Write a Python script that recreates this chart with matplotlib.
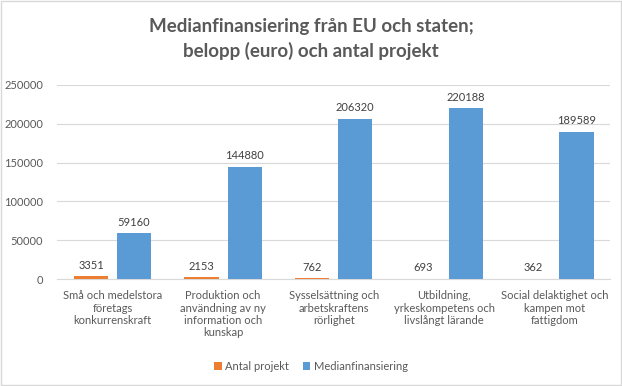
import matplotlib.pyplot as plt
import numpy as np
from matplotlib.patches import Rectangle

categories = ["Små och medelstora\nföretags\nkonkurrenskraft",
              "Produktion och\nanvändning av ny\ninformation och\nkunskap",
              "Sysselsättning och\narbetskraftens\nrörlighet",
              "Utbildning,\nyrkeskompetens och\nlivslångt lärande",
              "Social delaktighet och\nkampen mot\nfattigdom"]
antal_projekt = [3351, 2153, 762, 693, 362]
medianfinansiering = [59160, 144880, 206320, 220188, 189589]
yticks = [0, 50000, 100000, 150000, 200000, 250000]

plt.rcParams['font.family'] = ['Lato', 'DejaVu Sans']

fig = plt.figure(figsize=(6.22, 3.86), dpi=100)
fig.patches.append(Rectangle((0.0015, 0.002), 0.997, 0.995, transform=fig.transFigure,
                             fill=False, edgecolor='#d9d9d9', linewidth=1))
ax = fig.add_axes([0.092, 0.277, 0.889, 0.503])

x = np.arange(len(categories))
w = 0.31
off = 0.195
orange = '#ed7d31'
blue = '#5b9bd5'
b1 = ax.bar(x - off, antal_projekt, w, color=orange, label='Antal projekt', zorder=3)
b2 = ax.bar(x + off, medianfinansiering, w, color=blue, label='Medianfinansiering', zorder=3)

fs = 8
txtc = '#404040'
for xi, v in zip(x - off, antal_projekt):
    ax.text(xi, v + 7000, str(v), ha='center', va='bottom', fontsize=fs, color=txtc)
for xi, v in zip(x + off, medianfinansiering):
    ax.text(xi, v + 7000, str(v), ha='center', va='bottom', fontsize=fs, color=txtc)

ax.set_ylim(0, 250000)
ax.set_xlim(-0.5, len(categories) - 0.5)
ax.set_yticks(yticks)
ax.set_yticklabels([str(t) for t in yticks], fontsize=fs, color='#595959')
ax.set_xticks(x)
ax.set_xticklabels(categories, fontsize=fs, color='#595959', linespacing=1.15, va='top')
ax.tick_params(axis='both', length=0)
ax.tick_params(axis='x', pad=8)
ax.tick_params(axis='y', pad=10)
ax.grid(axis='y', color='#d9d9d9', linewidth=0.8, zorder=0)
for s in ['top', 'right', 'left']:
    ax.spines[s].set_visible(False)
ax.spines['bottom'].set_color('#d9d9d9')

fig.text(0.5, 0.9, "Medianfinansiering från EU och staten;\nbelopp (euro) och antal projekt",
         ha='center', va='center', fontsize=13.5, fontweight='bold', color='#595959', linespacing=1.45)

leg = fig.legend(handles=[b1, b2], loc='center', bbox_to_anchor=(0.5, 0.05), ncol=2, frameon=False,
                 fontsize=fs, handlelength=0.7, handleheight=0.7, handletextpad=0.3, columnspacing=1.2)
for t in leg.get_texts():
    t.set_color('#595959')

fig.savefig('out.png', dpi=100)
